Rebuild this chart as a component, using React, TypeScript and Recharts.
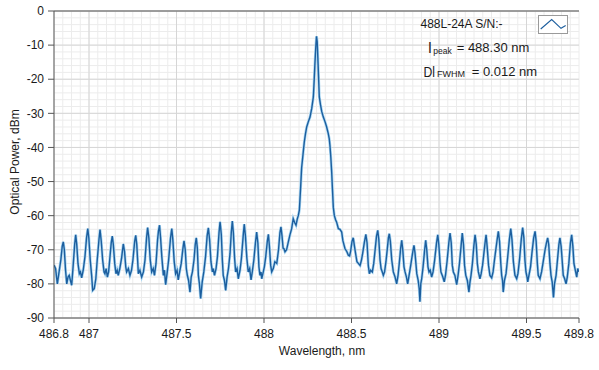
import { CartesianGrid, Line, LineChart, ReferenceLine, XAxis, YAxis } from "recharts";

// [wavelength nm, power dBm]
const leftFringes: [number, number][] = [
	[486.800, -74.5], [486.809, -75.5], [486.819, -80.0], [486.829, -76.5], [486.839, -73.0], [486.847, -69.0],
	[486.853, -67.7], [486.859, -70.0], [486.866, -76.0], [486.873, -80.0], [486.880, -78.0], [486.887, -77.5],
	[486.894, -79.0], [486.901, -80.4], [486.909, -75.0], [486.918, -68.5], [486.924, -65.6], [486.930, -68.5],
	[486.937, -74.0], [486.945, -77.0], [486.951, -76.5], [486.958, -78.2], [486.967, -76.0], [486.977, -72.0],
	[486.986, -66.5], [486.993, -63.8], [486.999, -66.5], [487.007, -73.0], [487.015, -77.5], [487.021, -81.9],
	[487.030, -81.4], [487.039, -78.5], [487.047, -73.0], [487.057, -67.0], [487.063, -64.1], [487.070, -67.5],
	[487.078, -73.0], [487.086, -76.5], [487.091, -77.0], [487.098, -75.5], [487.105, -78.0], [487.112, -76.5],
	[487.120, -72.0], [487.127, -68.0], [487.133, -66.0], [487.139, -68.5], [487.147, -74.0], [487.154, -77.0],
	[487.161, -76.0], [487.167, -77.5], [487.176, -75.5], [487.186, -72.5], [487.196, -68.3], [487.203, -70.5],
	[487.210, -75.0], [487.215, -76.5], [487.225, -75.5], [487.234, -77.5], [487.243, -76.0], [487.251, -73.0],
	[487.261, -67.5], [487.267, -65.8], [487.273, -68.5], [487.282, -77.0], [487.291, -76.0], [487.301, -78.0],
	[487.311, -76.5], [487.320, -73.0], [487.329, -66.5], [487.335, -63.5], [487.342, -66.5], [487.350, -73.0],
	[487.358, -76.5], [487.367, -75.5], [487.374, -77.5], [487.383, -74.0], [487.392, -67.0], [487.397, -64.5],
	[487.403, -62.8], [487.409, -66.5], [487.416, -72.0], [487.425, -77.5], [487.431, -76.0], [487.438, -80.2],
	[487.446, -77.0], [487.455, -73.0], [487.466, -66.5], [487.473, -63.8], [487.479, -67.0], [487.487, -73.5],
	[487.495, -77.0], [487.503, -76.0], [487.510, -78.8], [487.518, -76.5], [487.527, -74.0], [487.537, -69.5],
	[487.543, -67.4], [487.550, -70.0], [487.556, -75.5], [487.562, -77.5], [487.569, -79.0], [487.577, -82.4],
	[487.584, -78.0], [487.591, -76.5], [487.600, -73.0], [487.607, -68.5], [487.613, -66.5], [487.619, -69.5],
	[487.625, -77.5], [487.631, -80.0], [487.638, -84.3], [487.647, -79.4], [487.656, -76.5], [487.666, -72.0],
	[487.675, -66.0], [487.682, -63.6], [487.689, -67.0], [487.697, -73.5], [487.705, -76.5], [487.710, -75.5],
	[487.717, -77.5], [487.726, -75.5], [487.734, -72.0], [487.743, -65.0], [487.749, -61.8], [487.756, -65.5],
	[487.762, -73.0], [487.767, -77.5], [487.774, -79.0], [487.781, -81.9], [487.789, -78.0], [487.797, -75.5],
	[487.806, -71.0], [487.813, -65.0], [487.819, -61.6], [487.825, -65.0], [487.832, -72.5], [487.838, -76.5],
	[487.846, -75.5], [487.853, -78.5], [487.863, -76.0], [487.871, -72.5], [487.881, -66.0], [487.887, -62.5],
	[487.894, -66.0], [487.902, -72.5], [487.910, -76.5], [487.918, -75.5], [487.926, -78.8], [487.933, -76.5],
	[487.942, -73.0], [487.951, -68.0], [487.958, -64.8], [487.965, -68.0], [487.971, -75.0], [487.977, -77.5],
	[487.983, -76.5], [487.987, -78.5], [487.996, -76.5], [488.002, -75.0], [488.010, -72.0], [488.019, -67.5],
	[488.025, -65.5], [488.031, -69.0], [488.038, -74.5], [488.044, -76.5], [488.053, -75.5], [488.062, -73.5],
	[488.073, -74.0], [488.083, -70.0], [488.091, -65.0], [488.097, -63.3], [488.103, -66.0], [488.109, -69.5],
	[488.114, -69.7], [488.120, -70.6], [488.129, -70.0], [488.139, -67.7], [488.149, -65.5], [488.158, -63.8],
	[488.167, -60.9], [488.175, -62.0], [488.183, -62.8], [488.190, -61.0], [488.196, -60.0],
];

const mainPeak: [number, number][] = [
	[488.202, -58.4], [488.209, -52.0], [488.215, -46.0], [488.223, -42.0], [488.230, -38.5], [488.237, -36.0],
	[488.244, -34.0], [488.253, -32.5], [488.263, -31.1], [488.273, -28.5], [488.282, -25.2], [488.287, -20.0],
	[488.291, -15.4], [488.296, -10.5], [488.300, -7.4], [488.304, -9.0], [488.309, -15.5], [488.313, -21.0],
	[488.316, -25.2], [488.323, -27.5], [488.330, -29.5], [488.339, -31.1], [488.349, -32.5], [488.358, -34.0],
	[488.367, -35.9], [488.373, -37.5], [488.377, -39.5], [488.382, -43.0], [488.387, -47.5], [488.391, -52.0],
	[488.396, -57.5], [488.402, -60.0], [488.409, -61.2], [488.415, -61.9], [488.425, -63.8], [488.434, -64.0],
	[488.444, -64.8], [488.451, -67.4], [488.463, -69.7], [488.473, -70.5], [488.482, -71.6], [488.489, -71.8],
	[488.495, -70.5], [488.503, -67.5], [488.510, -66.5], [488.517, -69.0], [488.525, -71.6], [488.531, -73.5],
	[488.539, -74.0], [488.549, -74.6], [488.557, -73.0], [488.564, -71.0], [488.573, -68.0], [488.582, -65.5],
	[488.589, -68.0],
];

const rightFringes: [number, number][] = [
	[488.596, -74.6], [488.602, -77.0], [488.609, -76.0], [488.619, -76.5], [488.627, -74.0], [488.637, -69.0],
	[488.643, -66.0], [488.650, -64.3], [488.656, -67.0], [488.663, -73.0], [488.669, -75.5], [488.676, -76.5],
	[488.682, -77.5], [488.689, -76.5], [488.697, -73.5], [488.706, -69.0], [488.711, -66.5], [488.716, -65.3],
	[488.722, -67.5], [488.730, -73.0], [488.739, -76.5], [488.749, -78.0], [488.758, -80.0], [488.766, -77.5],
	[488.773, -74.0], [488.781, -69.5], [488.787, -67.2], [488.793, -70.0], [488.800, -75.0], [488.806, -76.5],
	[488.814, -78.0], [488.821, -80.0], [488.829, -77.5], [488.837, -75.0], [488.846, -72.0], [488.852, -70.0],
	[488.857, -68.7], [488.863, -71.0], [488.873, -77.0], [488.881, -79.0], [488.887, -81.5], [488.891, -85.2],
	[488.896, -80.0], [488.901, -78.5], [488.909, -75.0], [488.918, -70.0], [488.924, -67.2], [488.930, -70.0],
	[488.937, -75.0], [488.943, -76.5], [488.950, -76.0], [488.958, -78.0], [488.966, -76.5], [488.974, -73.5],
	[488.986, -68.0], [488.993, -65.6], [488.999, -68.5], [489.006, -74.0], [489.011, -76.5], [489.022, -78.0],
	[489.030, -79.4], [489.037, -77.5], [489.046, -73.5], [489.056, -68.0], [489.063, -65.1], [489.070, -68.0],
	[489.076, -74.5], [489.082, -76.5], [489.091, -77.5], [489.101, -80.2], [489.109, -77.5], [489.117, -74.0],
	[489.126, -69.0], [489.133, -65.1], [489.140, -68.5], [489.146, -74.5], [489.153, -77.5], [489.162, -79.0],
	[489.171, -82.4], [489.177, -79.5], [489.183, -77.5], [489.191, -74.0], [489.199, -69.0], [489.206, -65.6],
	[489.213, -68.5], [489.219, -74.0], [489.225, -76.5], [489.234, -78.5], [489.241, -77.0], [489.249, -74.5],
	[489.262, -68.5], [489.269, -65.6], [489.275, -69.0], [489.283, -74.5], [489.291, -77.5], [489.301, -78.2],
	[489.309, -76.5], [489.317, -73.0], [489.331, -67.5], [489.339, -64.6], [489.346, -67.5], [489.353, -74.0],
	[489.358, -77.5], [489.363, -79.0], [489.367, -82.4], [489.374, -79.0], [489.383, -77.0], [489.391, -73.0],
	[489.402, -67.0], [489.410, -63.8], [489.417, -67.0], [489.425, -73.5], [489.434, -77.5], [489.444, -78.5],
	[489.451, -77.0], [489.460, -73.0], [489.470, -67.0], [489.478, -63.5], [489.485, -66.5], [489.491, -73.0],
	[489.497, -76.5], [489.503, -78.0], [489.507, -79.4], [489.514, -77.5], [489.523, -75.0], [489.531, -71.0],
	[489.541, -66.5], [489.549, -64.6], [489.555, -67.5], [489.562, -74.0], [489.567, -77.5], [489.577, -78.5],
	[489.586, -76.5], [489.594, -74.0], [489.606, -70.0], [489.614, -68.0], [489.621, -66.5], [489.627, -68.5],
	[489.634, -74.0], [489.640, -77.5], [489.647, -79.5], [489.654, -84.0], [489.660, -80.0], [489.669, -77.5],
	[489.677, -73.0], [489.685, -68.5], [489.691, -66.5], [489.698, -69.0], [489.705, -74.0], [489.710, -77.5],
	[489.718, -78.5], [489.726, -80.0], [489.733, -78.0], [489.742, -74.0], [489.751, -68.0], [489.758, -65.6],
	[489.765, -69.0], [489.771, -74.0], [489.777, -75.5], [489.787, -78.0], [489.793, -75.5], [489.798, -76.5],
];

const wavelengthTicks = [486.8, 487, 487.5, 488, 488.5, 489, 489.5, 489.8];
const powerTicks = [0, -10, -20, -30, -40, -50, -60, -70, -80, -90];
const majorWavelengthGrid = [487, 487.5, 488, 488.5, 489, 489.5];

// minor grid: every 0.05 nm and every 2 dB
const minorWavelengthGrid = Array.from({ length: 61 }, (_, i) => +(486.8 + i * 0.05).toFixed(2));
const minorPowerGrid = Array.from({ length: 46 }, (_, i) => -90 + i * 2);

const FONT = "'Liberation Sans', Arial, sans-serif";
const TRACE = "#1c5e9e";

const spectrum = [...leftFringes, ...mainPeak, ...rightFringes].map(([wl, dbm]) => ({ wl, dbm }));

export default function App() {
	return (
		<div style={{ position: "absolute", left: 0, top: 0, width: 599, height: 370, background: "#fff", fontFamily: FONT }}>
			<LineChart width={599} height={370} data={spectrum} margin={{ top: 11, right: 20, bottom: 22, left: 0 }}>
				<CartesianGrid stroke="#ececec" verticalValues={minorWavelengthGrid} horizontalValues={minorPowerGrid} />
				<CartesianGrid stroke="#d6d6d6" verticalValues={majorWavelengthGrid} horizontalValues={powerTicks} />
				<XAxis
					dataKey="wl"
					type="number"
					domain={[486.8, 489.8]}
					ticks={wavelengthTicks}
					interval={0}
					allowDataOverflow
					height={30}
					stroke="#555"
					tickSize={5}
					tickMargin={6}
					tick={{ fill: "#1a1a1a", fontSize: 12, fontFamily: FONT }}
				/>
				<YAxis
					type="number"
					domain={[-90, 0]}
					ticks={powerTicks}
					interval={0}
					allowDataOverflow
					width={54}
					stroke="#555"
					tickSize={6}
					tickMargin={4}
					tick={{ fill: "#1a1a1a", fontSize: 12, fontFamily: FONT }}
				/>
				<ReferenceLine y={0} stroke="#555" />
				<Line dataKey="dbm" type="linear" stroke="#a9d6f2" strokeWidth={2.8} dot={false} isAnimationActive={false} />
				<Line dataKey="dbm" type="linear" stroke={TRACE} strokeWidth={1.4} dot={false} isAnimationActive={false} />
			</LineChart>

			<svg width={599} height={370} style={{ position: "absolute", left: 0, top: 0, pointerEvents: "none" }} fontFamily={FONT} fill="#1a1a1a">
				<text x={15} y={162} fontSize={12} textAnchor="middle" dominantBaseline="central" transform="rotate(-90 15 162)">
					Optical Power, dBm
				</text>
				<text x={322} y={355} fontSize={12} textAnchor="middle">Wavelength, nm</text>

				<text x={420.5} y={28.3} fontSize={12}>488L-24A S/N:-</text>
				<rect x={538.5} y={15.5} width={29} height={18} fill="#fff" stroke="#9a9a9a" />
				<polyline points="540.7,29 551.7,19.5 561,28.3 565.7,25.5" fill="none" stroke={TRACE} strokeWidth={1.1} />

				<text x={428.3} y={52.5} fontSize={15}>l</text>
				<text x={433.3} y={53.8} fontSize={8.5}>peak</text>
				<text x={456.7} y={52.3} fontSize={13}>= 488.30 nm</text>

				<text x={423.5} y={76.7} fontSize={15} textLength={11.5} lengthAdjust="spacingAndGlyphs">Dl</text>
				<text x={437} y={76.7} fontSize={8.5} textLength={28} lengthAdjust="spacingAndGlyphs">FWHM</text>
				<text x={471.7} y={75.7} fontSize={13}>= 0.012 nm</text>
			</svg>
		</div>
	);
}
